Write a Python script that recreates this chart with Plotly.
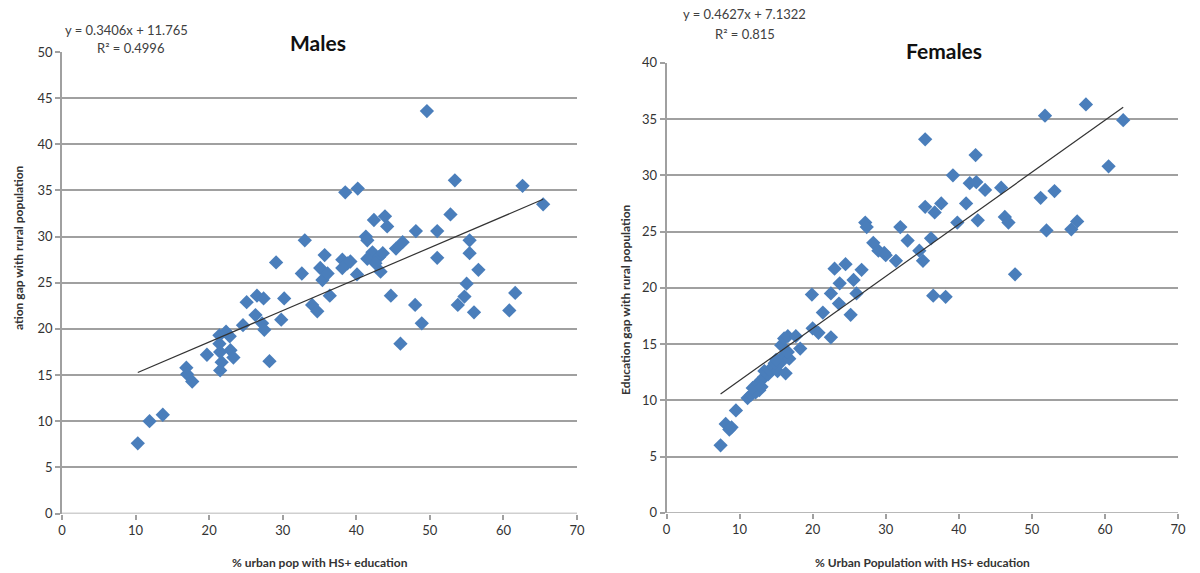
import numpy as np
import plotly.graph_objects as go

# ---------------- data ----------------
male_x = [10.3, 11.9, 13.7, 16.9, 17.0, 17.7, 19.7, 21.5, 21.7, 21.5, 21.4, 22.3, 21.4, 22.9, 23.3,
          22.8, 24.6, 25.1, 26.3, 26.5, 27.4, 27.2, 27.5, 28.2, 29.1, 29.8, 30.2, 32.6, 33.0, 34.0,
          34.7, 35.1, 35.4, 35.7, 36.1, 36.4, 38.1, 38.8, 39.2, 38.1, 38.5, 40.2, 40.1, 41.3, 41.5,
          42.4, 43.9, 44.2, 42.2, 41.5, 43.1, 43.6, 42.6, 43.3, 44.7, 45.4, 46.3, 46.0, 48.0, 48.1,
          48.9, 49.6, 51.0, 51.0, 52.8, 53.4, 53.8, 54.7, 55.0, 55.4, 55.4, 56.0, 56.6, 60.8, 61.6,
          62.6, 65.4]
male_y = [7.6, 10.0, 10.7, 15.8, 15.1, 14.3, 17.2, 15.5, 16.4, 17.5, 18.4, 19.7, 19.3, 17.7, 16.9,
          19.2, 20.4, 22.9, 21.5, 23.6, 23.3, 20.6, 19.9, 16.5, 27.2, 21.0, 23.3, 26.0, 29.6, 22.6,
          21.9, 26.6, 25.3, 28.0, 26.0, 23.6, 27.5, 27.1, 27.3, 26.6, 34.8, 35.2, 25.9, 30.0, 29.6,
          31.8, 32.2, 31.1, 28.3, 27.6, 27.8, 28.2, 27.1, 26.2, 23.6, 28.7, 29.4, 18.4, 22.6, 30.6,
          20.6, 43.6, 30.6, 27.7, 32.4, 36.1, 22.6, 23.5, 24.9, 29.6, 28.2, 21.8, 26.4, 22.0, 23.9,
          35.5, 33.5]
male_slope, male_intercept = 0.3406, 11.765

female_x = [7.4, 8.1, 8.6, 8.9, 9.5, 11.1, 11.6, 12.2, 12.7, 11.8, 12.5, 13.0, 13.4, 13.9, 13.0,
            13.4, 14.1, 14.8, 15.2, 14.8, 15.7, 15.0, 16.3, 15.7, 16.1, 16.6, 16.1, 16.8, 16.6, 17.7,
            18.3, 19.9, 20.0, 20.8, 21.4, 22.5, 22.5, 23.0, 23.6, 23.7, 24.5, 25.2, 25.6, 26.0, 26.7,
            27.2, 27.4, 28.3, 29.0, 29.8, 30.0, 31.4, 32.0, 33.0, 34.6, 35.1, 35.4, 35.4, 36.2, 36.5,
            36.7, 37.6, 38.2, 39.2, 39.8, 41.0, 41.5, 42.3, 42.4, 42.6, 43.6, 45.8, 46.3, 46.8, 47.7,
            51.2, 51.8, 52.0, 53.1, 55.4, 56.2, 57.4, 60.5, 62.5]
female_y = [6.0, 7.9, 7.4, 7.6, 9.1, 10.2, 10.5, 10.7, 10.9, 11.1, 11.5, 11.8, 12.1, 12.3, 11.2,
            12.6, 12.7, 12.9, 12.6, 13.3, 13.4, 13.6, 12.4, 14.9, 15.5, 15.7, 14.0, 13.7, 14.3, 15.7,
            14.6, 19.4, 16.4, 16.0, 17.8, 15.6, 19.5, 21.7, 18.6, 20.4, 22.1, 17.6, 20.7, 19.5, 21.6,
            25.8, 25.4, 24.0, 23.3, 23.1, 22.9, 22.4, 25.4, 24.2, 23.3, 22.4, 33.2, 27.2, 24.4, 19.3,
            26.7, 27.5, 19.2, 30.0, 25.8, 27.5, 29.3, 31.8, 29.4, 26.0, 28.7, 28.9, 26.3, 25.8, 21.2,
            28.0, 35.3, 25.1, 28.6, 25.2, 25.9, 36.3, 30.8, 34.9]
female_slope, female_intercept = 0.4627, 7.1322

x_ticks = [0, 10, 20, 30, 40, 50, 60, 70]
male_y_ticks = [0, 5, 10, 15, 20, 25, 30, 35, 40, 45, 50]
female_y_ticks = [0, 5, 10, 15, 20, 25, 30, 35, 40]

# ---------------- style ----------------
W, H = 1200, 573
FONT = "Lato, 'Open Sans', sans-serif"
MARK = "#4A7EBB"
GRID = "#A0A0A0"
TXT = "#333333"

def px(v):
    return v / W

def py(v):
    return 1 - v / H

fig = go.Figure()

# males
fig.add_trace(go.Scatter(x=male_x, y=male_y, mode="markers", xaxis="x", yaxis="y",
                         marker=dict(symbol="diamond", size=11, color=MARK), showlegend=False))
mx = np.array([min(male_x), max(male_x)])
fig.add_trace(go.Scatter(x=mx, y=male_slope * mx + male_intercept, mode="lines", xaxis="x", yaxis="y",
                         line=dict(color="#333333", width=1.2), showlegend=False))
# females
fig.add_trace(go.Scatter(x=female_x, y=female_y, mode="markers", xaxis="x2", yaxis="y2",
                         marker=dict(symbol="diamond", size=11, color=MARK), showlegend=False))
fx = np.array([min(female_x), max(female_x)])
fig.add_trace(go.Scatter(x=fx, y=female_slope * fx + female_intercept, mode="lines", xaxis="x2", yaxis="y2",
                         line=dict(color="#333333", width=1.2), showlegend=False))

common_x = dict(range=[0, 70], tickvals=x_ticks, showgrid=False, zeroline=False,
                showline=False, ticks="outside", ticklen=5, tickcolor=GRID, tickwidth=1.5,
                tickfont=dict(family=FONT, size=13, color=TXT), automargin=False, fixedrange=True)
common_y = dict(showgrid=True, gridcolor=GRID, gridwidth=1.5, zeroline=False,
                showline=True, linecolor=GRID, linewidth=1.5, ticks="outside", ticklen=5,
                tickcolor=GRID, tickwidth=1.5,
                tickfont=dict(family=FONT, size=13, color=TXT), automargin=False, fixedrange=True)

fig.update_layout(
    width=W, height=H,
    margin=dict(l=0, r=0, t=0, b=0),
    paper_bgcolor="white", plot_bgcolor="white",
    showlegend=False,
    xaxis=dict(domain=[px(62), px(577)], anchor="y", **common_x),
    yaxis=dict(domain=[py(513.5), py(52)], anchor="x", range=[0, 50], tickvals=male_y_ticks, **common_y),
    xaxis2=dict(domain=[px(666.5), px(1178)], anchor="y2", **common_x),
    yaxis2=dict(domain=[py(512.8), py(62.8)], anchor="x2", range=[0, 40], tickvals=female_y_ticks, **common_y),
)

ann = []
def text(x, y, s, size=13, bold=False, xanchor="center", angle=0, color=TXT):
    ann.append(dict(x=px(x), y=py(y), xref="paper", yref="paper", text=("<b>%s</b>" % s) if bold else s,
                    showarrow=False, xanchor=xanchor, yanchor="middle", textangle=angle,
                    font=dict(family=FONT, size=size, color=color)))

# titles
text(318, 43, "Males", size=21, bold=True, color="#111111")
text(944, 50, "Females", size=21, bold=True, color="#111111")
# trendline equations
text(63, 30, "y = 0.3406x + 11.765", size=13, xanchor="left", color="#404040")
text(95, 48, "R² = 0.4996", size=13, xanchor="left", color="#404040")
text(681, 14, "y = 0.4627x + 7.1322", size=13, xanchor="left", color="#404040")
text(713, 34, "R² = 0.815", size=13, xanchor="left", color="#404040")
# axis titles
text(320, 562, "% urban pop with HS+ education", size=12, bold=True)
text(922, 562, "% Urban Population with HS+ education", size=12, bold=True)
text(18, 248, "ation gap with rural population", size=12, bold=True, angle=-90)
text(625, 300, "Education gap with rural population", size=12, bold=True, angle=-90)

fig.update_layout(annotations=ann)

# x-axis baseline at y=0
fig.add_shape(type="line", xref="x", yref="y", x0=0, x1=70, y0=0, y1=0, line=dict(color=GRID, width=1.5))
fig.add_shape(type="line", xref="x2", yref="y2", x0=0, x1=70, y0=0, y1=0, line=dict(color=GRID, width=1.5))

fig.write_html("out.html")
